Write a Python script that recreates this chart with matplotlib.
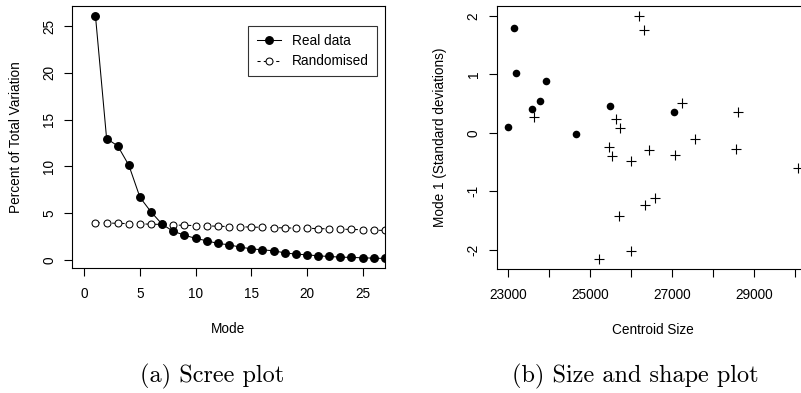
import numpy as np
import matplotlib
matplotlib.use("Agg")
import matplotlib.pyplot as plt
from matplotlib.lines import Line2D

# scree plot values
modes = list(range(1, 28))
real_data = [26.07, 12.98, 12.2, 10.13, 6.7, 5.14, 3.82, 3.07, 2.67, 2.32,
             2.07, 1.78, 1.64, 1.39, 1.21, 1.1, 1.0, 0.78, 0.64, 0.57,
             0.46, 0.39, 0.32, 0.29, 0.25, 0.21, 0.18]
randomised = [4.0, 3.97, 3.93, 3.9, 3.87, 3.84, 3.81, 3.75, 3.72, 3.69,
              3.66, 3.62, 3.59, 3.56, 3.53, 3.5, 3.47, 3.44, 3.42, 3.4,
              3.37, 3.34, 3.31, 3.28, 3.25, 3.2, 3.17]

# size and shape values
circ_size = [23000, 23130, 23187, 23570, 23773, 23912, 24653, 25475, 27046]
circ_mode1 = [0.094, 1.79, 1.03, 0.407, 0.543, 0.885, -0.014, 0.458, 0.361]
cross_size = [23635, 26200, 26322, 27234, 28618, 25638, 25719, 25459, 25540, 25996,
              26428, 27551, 27079, 28570, 30083, 26591, 26346, 25703, 25996, 25206]
cross_mode1 = [0.276, 1.994, 1.755, 0.504, 0.361, 0.242, 0.088, -0.236, -0.39, -0.481,
               -0.299, -0.111, -0.384, -0.27, -0.595, -1.112, -1.232, -1.425, -2.017, -2.16]

W, H = 801, 393
sans = "Liberation Sans"
fs = 9.8

def px_axes(x0, y0, x1, y1):
    return [x0 / W, 1 - y1 / H, (x1 - x0) / W, (y1 - y0) / H]

def style(ax):
    for s in ax.spines.values():
        s.set_linewidth(0.8)
    ax.tick_params(axis="x", length=5.5, width=0.8, pad=8, labelsize=fs)
    ax.tick_params(axis="y", length=5.5, width=0.8, pad=6, labelsize=fs)
    for lab in ax.get_xticklabels() + ax.get_yticklabels():
        lab.set_fontfamily(sans)
    for lab in ax.get_yticklabels():
        lab.set_rotation(90)
        lab.set_va("center")

fig = plt.figure(figsize=(W / 100, H / 100), dpi=100)

# (a) scree plot
ax1 = fig.add_axes(px_axes(72, 6, 385, 268))
ax1.plot(modes, randomised, color="black", lw=0.75, ls=(0, (4, 4)),
         marker="o", ms=5.0, mfc="white", mec="black", mew=0.75)
ax1.plot(modes, real_data, color="black", lw=0.75,
         marker="o", ms=5.4, mfc="black", mec="black")
ax1.set_xlim(-1.11, 27.02)
ax1.set_ylim(-0.84, 27.14)
ax1.set_xticks([0, 5, 10, 15, 20, 25])
ax1.set_yticks([0, 5, 10, 15, 20, 25])
style(ax1)
ax1.set_xlabel("Mode", fontsize=fs, fontfamily=sans, labelpad=15)
ax1.set_ylabel("Percent of Total Variation", fontsize=fs, fontfamily=sans, labelpad=14)

handles = [
    Line2D([], [], color="black", lw=0.75, marker="o", ms=5.4, mfc="black"),
    Line2D([], [], color="black", lw=0.75, ls=(0, (3, 3)), marker="o", ms=5.0,
           mfc="white", mew=0.75),
]
leg = ax1.legend(handles, ["Real data", "Randomised"], loc="upper right",
                 bbox_to_anchor=((377 - 72) / 313, (268 - 26) / 262),
                 frameon=True, fancybox=False, borderaxespad=0, borderpad=0.6,
                 handlelength=1.8, handletextpad=0.8, labelspacing=0.45,
                 prop={"family": sans, "size": fs})
leg.get_frame().set_edgecolor("black")
leg.get_frame().set_linewidth(0.8)

# (b) size and shape plot
ax2 = fig.add_axes(px_axes(496.7, 6, 809.9, 269))
ax2.scatter(circ_size, circ_mode1, s=30, color="black", marker="o", lw=0)
ax2.scatter(cross_size, cross_mode1, s=55, color="black", marker="+", lw=0.8)
ax2.set_xlim(22717, 30366)
ax2.set_ylim(-2.33, 2.17)
ax2.set_xticks(list(range(23000, 30001, 1000)))
ax2.set_xticklabels(["23000", "", "25000", "", "27000", "", "29000", ""])
ax2.set_yticks([-2, -1, 0, 1, 2])
ax2.set_yticklabels(["-2", "-1", "0", "1", "2"])
style(ax2)
ax2.set_xlabel("Centroid Size", fontsize=fs, fontfamily=sans, labelpad=15)
ax2.set_ylabel("Mode 1 (Standard deviations)", fontsize=fs, fontfamily=sans, labelpad=14)

# captions
fig.text(212 / W, 1 - 376 / H, "(a) Scree plot", ha="center", va="center",
         fontsize=17.5, fontfamily="cmr10")
fig.text(635 / W, 1 - 376 / H, "(b) Size and shape plot", ha="center", va="center",
         fontsize=17.5, fontfamily="cmr10")

fig.savefig("out.png", dpi=100)
